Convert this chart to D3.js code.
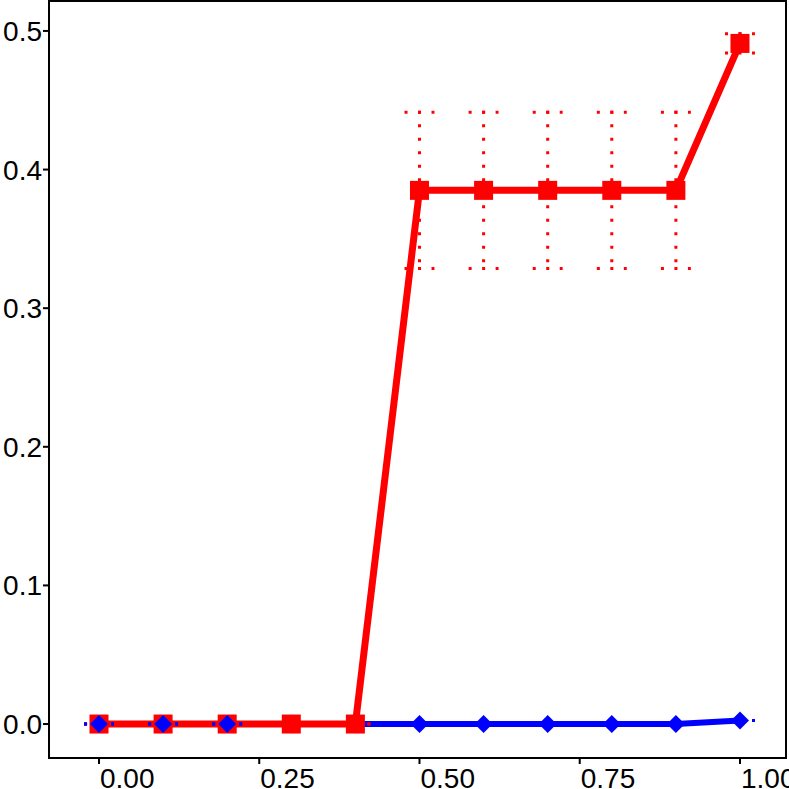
<!DOCTYPE html>
<html><head><meta charset="utf-8">
<script src="https://cdn.jsdelivr.net/npm/d3@7"></script>
<style>body{margin:0;background:#fff}svg{display:block}</style>
</head><body>
<script>
// ---- data ----
const redX = [0, 0.1, 0.2, 0.3, 0.4, 0.5, 0.6, 0.7, 0.8, 0.9, 1.0];
const redY = [0, 0, 0, 0, 0, 0.385, 0.385, 0.385, 0.385, 0.385, 0.491];
const redErr = [0, 0, 0, 0, 0, 0.0563, 0.0563, 0.0563, 0.0563, 0.0563, 0.007];
const blueX = [0, 0.1, 0.2, 0.5, 0.6, 0.7, 0.8, 0.9, 1.0];
const blueY = [0, 0, 0, 0, 0, 0, 0, 0, 0.0025];
const blueErr = [0, 0, 0, 0, 0, 0, 0, 0, 0];
const xTicks = [0, 0.25, 0.5, 0.75, 1.0];
const yTicks = [0, 0.1, 0.2, 0.3, 0.4, 0.5];

(function () {
const W = 789, H = 789;
const svg = d3.select("body").append("svg").attr("width", W).attr("height", H);
const pL = 49, pR = 786, pT = 1, pB = 758;
const x = d3.scaleLinear().domain([-0.078, 1.0718]).range([pL, pR]);
const y = d3.scaleLinear().domain([-0.0245, 0.5216]).range([pB, pT]);
const capW = 0.021;
const font = "Liberation Sans, Arial, Helvetica, sans-serif";

const red = d3.range(redX.length).map(i => ({x: redX[i], y: redY[i], e: redErr[i]}));
const blue = d3.range(blueX.length).map(i => ({x: blueX[i], y: blueY[i], e: blueErr[i]}));

const line = d3.line().x(d => x(d.x)).y(d => y(d.y));

function errorbars(data, color) {
  const g = svg.append("g").attr("stroke", color).attr("stroke-width", 3)
    .attr("stroke-dasharray", "3 10.5").attr("fill", "none");
  data.forEach(d => {
    const cx = x(d.x), y1 = y(d.y + d.e), y0 = y(d.y - d.e);
    const xl = x(d.x - capW) - 1.5, xr = x(d.x + capW) + 1.5;
    g.append("path").attr("d", `M${xl},${y1}L${xr},${y1}`);
    if (d.e > 0) g.append("path").attr("d", `M${cx},${y1 - 1.5}L${cx},${y0 + 1.5}`);
    g.append("path").attr("d", `M${xl},${y0}L${xr},${y0}`);
  });
}

svg.append("path").datum(blue).attr("d", line).attr("fill", "none")
  .attr("stroke", "#0000FF").attr("stroke-width", 6);
svg.append("path").datum(red).attr("d", line).attr("fill", "none")
  .attr("stroke", "#FF0000").attr("stroke-width", 7);
errorbars(red, "#FF0000");
svg.append("g").selectAll("rect").data(red).join("rect")
  .attr("x", d => x(d.x) - 9.5).attr("y", d => y(d.y) - 9.5)
  .attr("width", 19).attr("height", 19).attr("fill", "#FF0000");
errorbars(blue, "#0000FF");
svg.append("g").selectAll("path").data(blue).join("path")
  .attr("d", d => { const cx = x(d.x), cy = y(d.y), r = 9;
    return `M${cx},${cy - r}L${cx + r},${cy}L${cx},${cy + r}L${cx - r},${cy}Z`; })
  .attr("fill", "#0000FF");

svg.append("rect").attr("x", pL).attr("y", pT).attr("width", pR - pL)
  .attr("height", pB - pT).attr("fill", "none").attr("stroke", "#000").attr("stroke-width", 2);

const ya = svg.append("g");
yTicks.forEach(t => {
  ya.append("line").attr("x1", pL - 6).attr("x2", pL).attr("y1", y(t)).attr("y2", y(t))
    .attr("stroke", "#000").attr("stroke-width", 2);
  ya.append("text").attr("x", 42).attr("y", y(t) + 10).attr("text-anchor", "end")
    .attr("font-family", font).attr("font-size", 28).attr("fill", "#000").text(d3.format(".1f")(t));
});
const xa = svg.append("g");
xTicks.forEach(t => {
  xa.append("line").attr("x1", x(t)).attr("x2", x(t)).attr("y1", pB).attr("y2", pB + 6)
    .attr("stroke", "#000").attr("stroke-width", 2);
  xa.append("text").attr("x", x(t) + 1).attr("y", 788).attr("text-anchor", "start")
    .attr("font-family", font).attr("font-size", 28).attr("fill", "#000").text(d3.format(".2f")(t));
});
})();
</script>
</body></html>
